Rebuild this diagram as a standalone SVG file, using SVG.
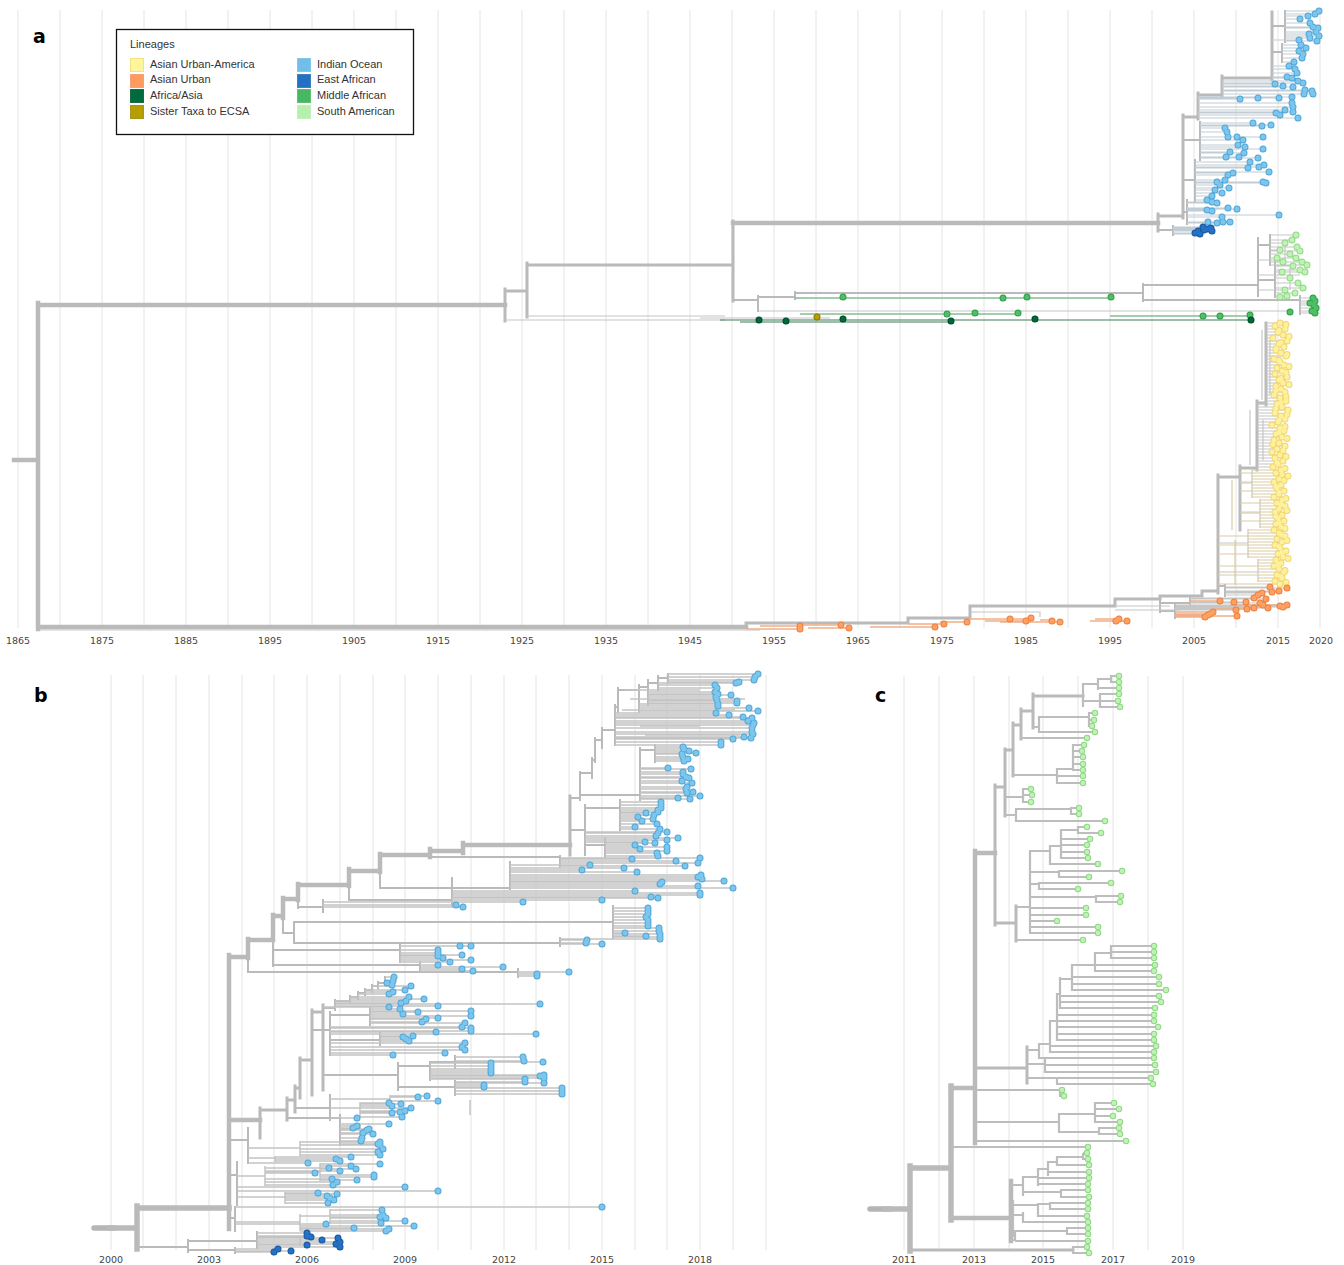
<svg xmlns="http://www.w3.org/2000/svg" xmlns:xlink="http://www.w3.org/1999/xlink" width="1344" height="1265" viewBox="0 0 1344 1265">
<style>
.grid{fill:none;stroke:#e4e4e4;stroke-width:1}
.ax{font-family:"DejaVu Sans",Verdana,sans-serif;font-size:9.5px;fill:#444;text-anchor:middle}
.pl{font-family:"DejaVu Sans",Verdana,sans-serif;font-size:19px;font-weight:bold;fill:#000}
.lg{font-family:"Liberation Sans",Arial,sans-serif;font-size:11px;fill:#333}
.br{fill:none;stroke:#bababa;stroke-linecap:square}
.w5{stroke-width:5.5}.w4{stroke-width:4.5}.w3{stroke-width:3}.w2{stroke-width:2}
.tp{fill:none;stroke:#c6c6c6;stroke-width:1.2}
.tpb{fill:none;stroke:#c2ccd4;stroke-width:1.2}
.tpt{fill:none;stroke:#d7cba6;stroke-width:1.2}
.tpo{fill:none;stroke:#f1ae88;stroke-width:1.3}
.tpg{fill:none;stroke:#86bd91;stroke-width:1.3}
.tpd{fill:none;stroke:#3f7d58;stroke-width:1.2}
.tb{fill:none;stroke:#c3c3c3;stroke-width:1.5}
.tc{fill:none;stroke:#bdbdbd;stroke-width:2.2}
.stub{fill:none;stroke:#b5b5b5;stroke-linecap:round}
.do{fill:none;stroke-linecap:round;stroke-width:7}
.di{fill:none;stroke-linecap:round;stroke-width:5}
.dso{fill:none;stroke-linecap:round;stroke-width:6.5}
.dsi{fill:none;stroke-linecap:round;stroke-width:4.5}
.io-o{stroke:#4fa6d8}.io-i{stroke:#7cc6ee}
.ea-o{stroke:#17589f}.ea-i{stroke:#2572c4}
.sa-o{stroke:#8fd985}.sa-i{stroke:#bff2b4}
.ma-o{stroke:#2e9c49}.ma-i{stroke:#4fbf66}
.aa-o{stroke:#004a27}.aa-i{stroke:#00693a}
.st-o{stroke:#8c7700}.st-i{stroke:#b89f00}
.aua-o{stroke:#efd672}.aua-i{stroke:#fff19c}
.au-o{stroke:#ec7f3e}.au-i{stroke:#ffa063}
</style>
<defs>
<path id="aIO" d="M1319 11h0M1315 14h0M1308 16h0M1300 19h0M1310 23h0M1313 27h0M1318 28h0M1316 32h0M1309 34h0M1319 36h0M1310 38h0M1317 41h0M1301 45h0M1306 48h0M1299 51h0M1303 54h0M1302 58h0M1294 62h0M1299 40h0M1289 66h0M1295 69h0M1297 73h0M1287 77h0M1292 78h0M1298 81h0M1303 83h0M1275 84h0M1283 86h0M1293 87h0M1305 90h0M1312 91h0M1304 94h0M1313 94h0M1258 98h0M1240 99h0M1279 98h0M1292 97h0M1292 103h0M1293 107h0M1285 110h0M1293 112h0M1276 113h0M1280 115h0M1298 118h0M1253 123h0M1262 126h0M1271 125h0M1225 128h0M1227 132h0M1228 137h0M1263 137h0M1237 137h0M1243 140h0M1238 145h0M1245 147h0M1263 149h0M1230 152h0M1244 153h0M1226 157h0M1239 157h0M1258 158h0M1250 162h0M1264 165h0M1248 168h0M1259 167h0M1269 172h0M1233 173h0M1228 175h0M1225 180h0M1217 182h0M1263 182h0M1266 183h0M1220 185h0M1229 188h0M1215 190h0M1222 193h0M1212 196h0M1207 200h0M1212 202h0M1217 203h0M1228 208h0M1237 209h0M1207 210h0M1212 211h0M1279 215h0M1222 217h0M1230 222h0M1223 222h0M1217 223h0M1208 222h0"/>
<path id="aEA" d="M1203 227h0M1211 228h0M1208 229h0M1204 230h0M1198 231h0M1212 231h0M1195 233h0M1200 234h0"/>
<path id="aSA" d="M1296 235h0M1292 240h0M1285 243h0M1297 247h0M1280 250h0M1300 251h0M1290 254h0M1296 258h0M1277 258h0M1302 262h0M1283 262h0M1307 265h0M1293 266h0M1300 270h0M1282 272h0M1305 272h0M1290 278h0M1298 283h0M1303 288h0M1285 290h0M1295 293h0M1287 296h0M1280 297h0"/>
<path id="aMA" d="M1313 298h0M1315 301h0M1310 303h0M1314 305h0M1316 308h0M1312 311h0M1315 313h0M843 297h0M1003 298h0M1027 297h0M1111 297h0M947 314h0M975 313h0M1018 313h0M1203 316h0M1220 316h0M1250 315h0M1290 312h0"/>
<path id="aAA" d="M759 320h0M786 321h0M843 319h0M951 321h0M1035 319h0M1251 320h0"/>
<path id="aST" d="M817 317h0"/>
<path id="aAUA" d="M1280 323h0M1275 326h0M1285 329h0M1278 332h0M1283 335h0M1273 338h0M1287 341h0M1279 344h0M1284 347h0M1276 350h0M1281 353h0M1286 356h0M1274 359h0M1280 362h0M1284 365h0M1277 368h0M1282 371h0M1275 374h0M1287 377h0M1279 380h0M1283 383h0M1276 386h0M1281 389h0M1285 392h0M1274 395h0M1280 398h0M1286 401h0M1277 404h0M1282 407h0M1288 410h0M1275 413h0M1281 416h0M1285 419h0M1278 422h0M1272 425h0M1280 428h0M1284 431h0M1276 434h0M1282 437h0M1274 440h0M1279 443h0M1285 446h0M1277 449h0M1272 452h0M1280 455h0M1275 458h0M1283 461h0M1278 464h0M1273 467h0M1281 470h0M1276 473h0M1288 476h0M1279 479h0M1274 482h0M1281 485h0M1277 488h0M1284 491h0M1279 494h0M1274 497h0M1282 500h0M1277 503h0M1285 506h0M1279 509h0M1275 512h0M1282 515h0M1278 518h0M1284 521h0M1276 524h0M1281 527h0M1274 530h0M1279 533h0M1285 536h0M1277 539h0M1282 542h0M1275 545h0M1280 548h0M1286 551h0M1278 554h0M1283 557h0M1276 560h0M1281 563h0M1274 566h0M1279 569h0M1284 572h0M1277 575h0M1282 578h0M1275 581h0M1280 584h0M1286 324.5h0M1279 330.5h0M1289 336.5h0M1281 342.5h0M1276 348.5h0M1287 354.5h0M1279 360.5h0M1289 366.5h0M1286 372.5h0M1281 378.5h0M1289 384.5h0M1276 390.5h0M1286 396.5h0M1281 402.5h0M1276 408.5h0M1287 414.5h0M1279 420.5h0M1285 426.5h0M1279 432.5h0M1287 438.5h0M1273 444.5h0M1283 450.5h0M1286 456.5h0M1277 462.5h0M1285 468.5h0M1282 474.5h0M1284 480.5h0M1276 486.5h0M1279 492.5h0M1286 498.5h0M1281 504.5h0M1287 510.5h0M1276 516.5h0M1279 522.5h0M1285 528.5h0M1281 534.5h0M1287 540.5h0M1279 546.5h0M1282 552.5h0M1288 558.5h0M1278 564.5h0M1285 570.5h0M1281 576.5h0M1286 582.5h0"/>
<path id="aAU" d="M1270 587h0M1272 592h0M1279 591h0M1287 588h0M1262 593h0M1258 595h0M1266 599h0M1254 598h0M1246 602h0M1234 602h0M1220 601h0M1260 603h0M1263 605h0M1254 608h0M1247 609h0M1236 610h0M1237 616h0M1268 608h0M1280 606h0M1283 607h0M1287 605h0M1205 617h0M1210 614h0M1213 612h0M1208 615h0M800 626h0M800 629h0M841 625h0M849 628h0M935 627h0M944 624h0M967 622h0M1010 619h0M1026 621h0M1031 618h0M1052 621h0M1060 622h0M1116 621h0M1119 619h0M1127 621h0"/>
<path id="bIO" d="M758 674h0M755 677h0M754 680h0M739 682h0M736 683h0M715 685h0M717 688h0M715 692h0M718 694h0M731 695h0M716 697h0M717 700h0M737 701h0M737 703h0M718 704h0M718 706h0M749 708h0M758 711h0M716 713h0M729 715h0M743 717h0M752 718h0M748 721h0M754 723h0M753 725h0M752 728h0M752 732h0M753 734h0M744 737h0M751 738h0M733 739h0M721 742h0M721 745h0M683 747h0M684 749h0M689 751h0M696 753h0M682 754h0M683 757h0M688 759h0M684 761h0M668 768h0M691 769h0M683 772h0M683 774h0M686 777h0M689 778h0M682 781h0M692 783h0M687 787h0M686 789h0M693 792h0M687 793h0M700 796h0M678 798h0M690 799h0M661 802h0M661 805h0M661 808h0M658 810h0M658 812h0M646 813h0M654 815h0M638 817h0M653 819h0M642 821h0M657 824h0M635 827h0M660 829h0M667 832h0M658 833h0M656 836h0M678 838h0M667 840h0M645 842h0M655 843h0M635 845h0M667 847h0M640 849h0M667 851h0M657 853h0M658 856h0M700 858h0M632 859h0M676 861h0M698 863h0M685 866h0M590 865h0M624 868h0M582 870h0M637 872h0M701 875h0M698 877h0M702 879h0M724 881h0M662 882h0M660 884h0M698 886h0M733 888h0M635 891h0M700 893h0M700 895h0M651 897h0M658 898h0M602 900h0M523 902h0M456 905h0M463 907h0M648 908h0M648 911h0M648 914h0M646 917h0M648 920h0M648 923h0M648 926h0M659 928h0M659 931h0M660 934h0M660 937h0M625 933h0M646 936h0M587 940h0M586 943h0M602 944h0M660 939h0M460 946h0M471 946h0M438 950h0M438 953h0M462 955h0M438 956h0M443 958h0M471 960h0M450 962h0M438 965h0M503 967h0M462 969h0M473 971h0M569 972h0M537 974h0M537 976h0M394 977h0M393 981h0M387 983h0M392 985h0M411 986h0M405 990h0M393 992h0M389 994h0M409 997h0M424 999h0M406 1001h0M401 1003h0M540 1004h0M438 1006h0M389 1007h0M400 1009h0M471 1011h0M418 1012h0M403 1014h0M471 1016h0M438 1018h0M426 1019h0M422 1022h0M465 1023h0M462 1027h0M471 1028h0M471 1031h0M436 1032h0M536 1034h0M465 1043h0M462 1047h0M465 1050h0M445 1053h0M393 1055h0M413 1036h0M403 1037h0M406 1039h0M409 1041h0M523 1057h0M524 1061h0M543 1062h0M491 1063h0M491 1066h0M491 1069h0M491 1071h0M491 1073h0M544 1075h0M540 1076h0M544 1078h0M525 1079h0M525 1082h0M544 1083h0M484 1085h0M484 1087h0M562 1088h0M562 1091h0M562 1094h0M427 1096h0M418 1097h0M438 1101h0M389 1103h0M401 1104h0M392 1106h0M411 1108h0M405 1111h0M400 1112h0M392 1113h0M402 1117h0M357 1118h0M389 1124h0M357 1126h0M353 1128h0M369 1129h0M367 1130h0M363 1133h0M373 1134h0M362 1138h0M361 1141h0M378 1144h0M380 1142h0M380 1145h0M383 1149h0M378 1152h0M380 1155h0M351 1157h0M336 1159h0M340 1161h0M308 1163h0M380 1164h0M351 1166h0M329 1168h0M356 1169h0M340 1171h0M315 1173h0M374 1175h0M374 1177h0M332 1179h0M357 1180h0M337 1182h0M333 1185h0M405 1187h0M438 1191h0M318 1193h0M337 1194h0M327 1196h0M330 1198h0M334 1200h0M328 1203h0M602 1207h0M382 1210h0M383 1215h0M380 1217h0M386 1218h0M405 1221h0M381 1223h0M326 1224h0M414 1226h0M354 1228h0M389 1229h0M386 1231h0"/>
<path id="bEA" d="M307 1233h0M307 1236h0M311 1237h0M322 1240h0M338 1238h0M340 1242h0M336 1244h0M340 1247h0M307 1245h0M278 1249h0M291 1251h0M274 1252h0"/>
<path id="cSA" d="M1119 676h0M1119 682h0M1119 688h0M1119 694h0M1118 701h0M1120 707h0M1095 713h0M1094 720h0M1092 726h0M1095 732h0M1087 738h0M1084 745h0M1082 751h0M1083 757h0M1083 764h0M1083 770h0M1083 776h0M1083 783h0M1031 789h0M1032 795h0M1031 802h0M1079 808h0M1079 814h0M1105 821h0M1087 827h0M1101 833h0M1090 839h0M1087 845h0M1087 852h0M1088 858h0M1098 864h0M1122 871h0M1089 877h0M1111 883h0M1078 889h0M1121 896h0M1120 902h0M1086 908h0M1086 915h0M1057 921h0M1098 927h0M1098 933h0M1083 940h0M1154 946h0M1154 952h0M1154 958h0M1155 965h0M1154 971h0M1159 977h0M1159 984h0M1166 990h0M1159 996h0M1161 1002h0M1155 1008h0M1154 1015h0M1154 1021h0M1158 1027h0M1154 1034h0M1154 1040h0M1156 1046h0M1154 1052h0M1154 1058h0M1155 1065h0M1156 1072h0M1151 1078h0M1153 1084h0M1062 1090h0M1064 1096h0M1114 1103h0M1119 1109h0M1113 1116h0M1120 1122h0M1119 1128h0M1120 1134h0M1126 1141h0M1088 1147h0M1087 1153h0M1088 1159h0M1089 1165h0M1089 1172h0M1089 1178h0M1088 1184h0M1088 1190h0M1089 1197h0M1088 1203h0M1088 1209h0M1087 1216h0M1088 1222h0M1088 1228h0M1088 1234h0M1088 1241h0M1087 1247h0M1089 1253h0"/>
</defs>
<rect width="1344" height="1265" fill="#fff"/>

<g id="panel-a">
<path id="a-grid" class="grid" d="M18 10V628M60 10V628M102 10V628M144 10V628M186 10V628M228 10V628M270 10V628M312 10V628M354 10V628M396 10V628M438 10V628M480 10V628M522 10V628M564 10V628M606 10V628M648 10V628M690 10V628M732 10V628M774 10V628M816 10V628M858 10V628M900 10V628M942 10V628M984 10V628M1026 10V628M1068 10V628M1110 10V628M1152 10V628M1194 10V628M1236 10V628M1278 10V628M1320 10V628"/>
<g id="a-axis" class="ax">
<text x="18" y="644">1865</text><text x="102" y="644">1875</text><text x="186" y="644">1885</text><text x="270" y="644">1895</text><text x="354" y="644">1905</text><text x="438" y="644">1915</text><text x="522" y="644">1925</text><text x="606" y="644">1935</text><text x="690" y="644">1945</text><text x="774" y="644">1955</text><text x="858" y="644">1965</text><text x="942" y="644">1975</text><text x="1026" y="644">1985</text><text x="1110" y="644">1995</text><text x="1194" y="644">2005</text><text x="1278" y="644">2015</text><text x="1321" y="644">2020</text>
</g>
<text id="label-a" class="pl" x="33" y="43">a</text>
<g id="a-connectors">
<path class="tp" d="M40 630H760"/>
<path class="br w4" d="M14 460H38M38 303V629M38 305H505M38 627H746M733 223H1158"/>
<path class="br w3" d="M505 289V321M505 291H527M527 263V317M527 265H733M733 221V301M1158 214V231M1158 216H1183M1183 115V218M1183 117H1198M1198 93V119M1198 95H1222M1222 76V97M1222 78H1272M1272 12V80M746 627V623H908V618H970V606H1115V599H1160V596H1202V591H1218M1218 475V593M1218 477H1240M1240 466V530M1240 468H1257M1257 401V470M1257 403H1266M1266 323V405"/>
<path class="br w2" d="M733 300H758M758 296V311M758 297H795M795 292V299M795 293H1143M1143 284V301M1143 285H1258M1258 238V296M1143 300H1300M1300 296V314M1158 230H1173M1173 226V235M1183 140H1200M1200 122V160M1183 180H1195M1195 160V202M1183 212H1187M1187 200V224M1272 26H1285M1285 11V42M1272 52H1282M1282 44V62M1258 245H1270M1270 235V265M1258 280H1275M1275 262V297M1218 586H1225M1225 585V596M1160 599V612M1160 603H1190M1190 597V606M1160 611H1175M1175 604V618"/>
<path class="tp" d="M758 311H1290M527 316H725M505 320H725M700 318H830M1258 260H1285M1258 275H1300M1258 290H1275M1285 245V262M1290 268V290M1262 330V400M1270 340V395M1250 410V465M1263 420V460M970 612H1040V617M1115 606H1170M1115 610H1180M1240 483H1252M1252 469V498M1240 513H1260M1260 499V528M1218 543H1248M1248 529V558M1218 572H1258M1258 559V582"/>
<path class="tpt" d="M1232 480V530M1235 540V585"/>
<path class="tpb" d="M1285 11H1319M1285 14H1315M1285 16H1308M1285 19H1300M1285 23H1310M1285 27H1313M1285 28H1318M1285 32H1316M1285 34H1309M1285 36H1319M1285 38H1310M1285 41H1317M1282 45H1301M1282 48H1306M1282 51H1299M1282 54H1303M1282 58H1302M1282 62H1294M1272 40H1299M1272 66H1289M1272 69H1295M1272 73H1297M1272 77H1287M1272 78H1292M1222 81H1298M1222 83H1303M1222 84H1275M1222 86H1283M1222 87H1293M1222 90H1305M1222 91H1312M1222 94H1313M1198 98H1279M1198 99H1240M1198 97H1292M1198 103H1292M1198 107H1293M1198 110H1285M1198 112H1293M1198 113H1276M1198 115H1280M1198 118H1298M1200 123H1253M1200 126H1262M1200 125H1271M1200 128H1225M1200 132H1227M1200 137H1263M1200 140H1243M1200 145H1238M1200 147H1245M1200 149H1263M1200 152H1230M1200 153H1244M1200 157H1239M1200 158H1258M1195 162H1250M1195 165H1264M1195 168H1248M1195 167H1259M1195 172H1269M1195 173H1233M1195 175H1228M1195 180H1225M1195 182H1263M1195 183H1266M1195 185H1220M1195 188H1229M1195 190H1215M1195 193H1222M1195 196H1212M1195 200H1207M1187 202H1212M1187 203H1217M1187 208H1228M1187 209H1237M1187 210H1207M1187 211H1212M1187 215H1279M1187 217H1222M1187 222H1230M1187 223H1217M1173 227H1203M1173 228H1211M1173 229H1208M1173 230H1204M1173 231H1212M1173 233H1195M1173 234H1200"/>
<path class="tp" d="M1270 235H1296M1270 240H1292M1270 243H1285M1270 247H1297M1270 250H1280M1270 251H1300M1270 254H1290M1270 258H1296M1270 262H1302M1270 265H1307M1275 266H1293M1275 270H1300M1275 272H1305M1275 278H1290M1275 283H1298M1275 288H1303M1275 290H1285M1275 293H1295M1275 296H1287M1300 298H1313M1300 301H1315M1300 303H1310M1300 305H1314M1300 308H1316M1300 311H1312M1300 313H1315"/>
<path class="tpg" d="M795 298H1111M800 314H1018M1110 316H1250"/>
<path class="tpd" d="M720 320H1251M740 322H951"/>
<path class="tp" d="M1266 323H1280M1266 326H1275M1266 329H1285M1266 332H1278M1266 335H1283M1266 338H1273M1266 341H1287M1266 344H1279M1266 347H1284M1266 350H1276M1266 353H1281M1266 356H1286M1266 359H1274M1266 362H1280M1266 365H1284M1266 368H1277M1266 371H1282M1266 374H1275M1266 377H1287M1266 380H1279M1266 383H1283M1266 386H1276M1266 389H1281M1266 392H1285M1266 395H1274M1266 398H1280M1266 401H1286M1257 404H1277M1257 407H1282M1257 410H1288M1257 413H1275M1257 416H1281M1257 419H1285M1257 422H1278M1257 425H1272M1257 428H1280M1257 431H1284M1257 434H1276M1257 437H1282M1257 440H1274M1257 443H1279M1257 446H1285M1257 449H1277M1257 452H1272M1257 455H1280M1257 458H1275M1257 461H1283M1257 464H1278M1257 467H1273"/>
<path class="tpt" d="M1252 470H1281M1240 473H1276M1252 476H1288M1252 479H1279M1240 482H1274M1252 485H1281M1252 488H1277M1240 491H1284M1252 494H1279M1252 497H1274M1260 500H1282M1240 503H1277M1260 506H1285M1260 509H1279M1240 512H1275M1260 515H1282M1260 518H1278M1240 521H1284M1260 524H1276M1260 527H1281M1248 530H1274M1248 533H1279M1218 536H1285M1248 539H1277M1248 542H1282M1218 545H1275M1248 548H1280M1248 551H1286M1218 554H1278M1248 557H1283M1258 560H1276M1258 563H1281M1218 566H1274M1258 569H1279M1258 572H1284M1218 575H1277M1258 578H1282M1258 581H1275M1218 584H1280"/>
<path class="tp" d="M1225 587H1270M1225 592H1272M1225 591H1279M1225 588H1287M1225 593H1262M1225 595H1258M1190 599H1266M1190 598H1254M1190 602H1246M1190 603H1260M1190 605H1263M1175 608H1268M1175 609H1247M1175 610H1236M1175 606H1280M1175 607H1283M1175 605H1287"/>
<path class="tpo" d="M1190 601H1220M1175 616H1237M1175 617H1205M1175 614H1210M1175 612H1213M1175 615H1208M746 629H800M760 626H800M800 625H841M808 628H849M870 627H935M908 624H944M940 622H967M970 619H1031M985 621H1026M1000 622H1060M1040 620H1052M1090 621H1127M1095 619H1119M1000 619H1010M1230 605H1287M1215 609H1254"/>
</g>
<g id="a-tips">
<g id="a-indian-ocean"><use href="#aIO" class="do io-o"/><use href="#aIO" class="di io-i"/></g>
<g id="a-east-african"><use href="#aEA" class="do ea-o"/><use href="#aEA" class="di ea-i"/></g>
<g id="a-south-american"><use href="#aSA" class="do sa-o"/><use href="#aSA" class="di sa-i"/></g>
<g id="a-middle-african"><use href="#aMA" class="do ma-o"/><use href="#aMA" class="di ma-i"/></g>
<g id="a-africa-asia"><use href="#aAA" class="do aa-o"/><use href="#aAA" class="di aa-i"/></g>
<g id="a-sister-taxa"><use href="#aST" class="do st-o"/><use href="#aST" class="di st-i"/></g>
<g id="a-asian-urban-america"><use href="#aAUA" class="do aua-o"/><use href="#aAUA" class="di aua-i"/></g>
<g id="a-asian-urban"><use href="#aAU" class="do au-o"/><use href="#aAU" class="di au-i"/></g>
</g>
<g id="legend">
<rect x="116.5" y="29.5" width="297" height="105" fill="#fff" stroke="#111" stroke-width="1.3"/>
<text class="lg" x="130" y="48">Lineages</text>
<g id="leg-aua"><rect x="130.5" y="58.5" width="13" height="13" fill="#fff59d" stroke="#f3e27e"/><text class="lg" x="150" y="68">Asian Urban-America</text></g>
<g id="leg-au"><rect x="130.5" y="74.5" width="13" height="13" fill="#ff9b5e" stroke="#f5a27a"/><text class="lg" x="150" y="83">Asian Urban</text></g>
<g id="leg-aa"><rect x="130.5" y="89.5" width="13" height="13" fill="#006b3c" stroke="#1d6b45"/><text class="lg" x="150" y="99">Africa/Asia</text></g>
<g id="leg-st"><rect x="130.5" y="105.5" width="13" height="13" fill="#b89f00" stroke="#a89420"/><text class="lg" x="150" y="115">Sister Taxa to ECSA</text></g>
<g id="leg-io"><rect x="297.5" y="58.5" width="13" height="13" fill="#70bfea" stroke="#86c6ea"/><text class="lg" x="317" y="68">Indian Ocean</text></g>
<g id="leg-ea"><rect x="297.5" y="74.5" width="13" height="13" fill="#2271c3" stroke="#3f7fc4"/><text class="lg" x="317" y="83">East African</text></g>
<g id="leg-ma"><rect x="297.5" y="89.5" width="13" height="13" fill="#47b862" stroke="#62bf74"/><text class="lg" x="317" y="99">Middle African</text></g>
<g id="leg-sa"><rect x="297.5" y="105.5" width="13" height="13" fill="#b6f0ae" stroke="#c5f0bd"/><text class="lg" x="317" y="115">South American</text></g>
</g>
</g>

<g id="panel-b">
<path id="b-grid" class="grid" d="M111 675V1250M143 675V1250M176 675V1250M209 675V1250M242 675V1250M274 675V1250M307 675V1250M340 675V1250M373 675V1250M405 675V1250M438 675V1250M471 675V1250M504 675V1250M536 675V1250M569 675V1250M602 675V1250M635 675V1250M667 675V1250M700 675V1250M733 675V1250M766 675V1250"/>
<g id="b-axis" class="ax">
<text x="111" y="1263">2000</text><text x="209" y="1263">2003</text><text x="307" y="1263">2006</text><text x="405" y="1263">2009</text><text x="504" y="1263">2012</text><text x="602" y="1263">2015</text><text x="700" y="1263">2018</text>
</g>
<text id="label-b" class="pl" x="34" y="702">b</text>
<g id="b-connectors">
<path class="stub w5" d="M94 1228H115"/>
<path class="br w5" d="M110 1228H137M137 1206V1249M137 1208H229"/>
<path class="br w4" d="M229 955V1229M229 957H248M248 939V958M248 940H273M273 915V940M273 916H283M283 898V918M283 899H298M298 884V900M298 885H349M349 869V886M349 871H380M380 854V872M380 855H430M430 849V857M430 851H463M463 843V853M463 845H570M229 1120H260"/>
<path class="br w3" d="M570 796V855M260 1108V1138M260 1110H287M287 1098V1120M287 1100H295M295 1086V1112M295 1088H300M300 1058V1098M300 1060H312M312 1010V1095M312 1012H323M323 1005V1090"/>
<path class="br w2" d="M248 958V972M273 940V966M283 918V933M298 900V908M349 886V900M380 872V888M229 1140H248M248 1128V1163M229 1175H237M237 1162V1205M229 1218H235M235 1207V1231M137 1247H188M188 1240V1252M188 1241H257M257 1232V1248M188 1250H235M235 1248V1253M570 798H580M580 772V800M580 773H592M592 758V778M592 760H595M595 738V762M595 740H602M602 728V748M602 730H615M615 705V745M615 707H618M618 688V712M618 690H639M639 685V712M639 687H648M648 680V705M648 683H658M658 676V690M658 678H668M668 674V683M580 795H640M640 748V800M640 750H655M655 745V762M570 830H585M585 805V855M585 808H620M620 800V830M585 845H605M605 838V857M349 900H452M452 878V906M380 888H510M510 862V889M430 857H560M560 856V867M298 907H323M323 900V912M283 933H294M294 922V943M294 922H613M613 906V938M294 943H560M560 938V946M273 950H400M400 944V962M273 965H420M420 962V972M248 972H518M518 969V977M323 1008H335M335 1000V1010M335 1001H350M350 996V1003M350 997H358M358 992V999M358 993H365M365 989V995M365 990H372M372 985V992M372 986H378M378 982V988M378 983H385M385 977V985M312 1030H330M330 1012V1055M330 1015H370M370 1008V1025M330 1040H380M380 1032V1045M323 1075H398M398 1063V1090M398 1066H430M430 1062V1080M430 1062H455M455 1056V1068M398 1087H455M455 1081V1095M295 1108H330M330 1095V1120M287 1118H340M340 1115V1145"/>
<path class="tb" d="M330 1108H360M360 1102V1118M330 1099H390M390 1095V1102M248 1148H300M300 1141V1156M248 1158H275M275 1156V1162M237 1176H265M265 1166V1186M265 1172H320M320 1163V1181M237 1197H285M285 1192V1204M235 1222H300M300 1214V1231M300 1216H330M330 1209V1224M300 1235V1246M625 690H700M630 699H745M622 710H735M640 726H700M645 735H740M470 1100V1115M360 1125V1140"/>
<path class="tb" d="M668 674H758M668 677H755M668 680H754M668 682H739M658 683H736M658 685H715M658 688H717M648 692H715M648 694H718M648 695H731M648 697H716M648 700H717M648 701H737M648 703H737M639 704H718M639 706H718M639 708H749M639 711H758M615 713H716M615 715H729M615 717H743M615 718H752M615 721H748M615 723H754M615 725H753M615 728H752M615 732H752M615 734H753M615 737H744M615 738H751M615 739H733M615 742H721M615 745H721M655 747H683M655 749H684M655 751H689M655 753H696M655 754H682M655 757H683M655 759H688M655 761H684M640 768H668M640 769H691M640 772H683M640 774H683M640 777H686M640 778H689M640 781H682M640 783H692M640 787H687M640 789H686M640 792H693M640 793H687M640 796H700M640 798H678M640 799H690M620 802H661M620 805H661M620 808H661M620 810H658M620 812H658M620 813H646M620 815H654M620 817H638M620 819H653M620 821H642M620 824H657M620 827H635M620 829H660M585 832H667M585 833H658M585 836H656M585 838H678M585 840H667M585 842H645M605 843H655M605 845H635M605 847H667M605 849H640M605 851H667M605 853H657M605 856H658"/>
<path class="tb" d="M560 858H700M560 859H632M560 861H676M560 863H698M560 866H685M510 865H590M510 868H624M510 870H582M510 872H637M510 875H701M510 877H698M510 879H702M510 881H724M510 882H662M510 884H660M510 886H698M510 888H733M452 891H635M452 893H700M452 895H700M452 897H651M452 898H658M452 900H602M323 902H523M323 905H456M323 907H463M613 908H648M613 911H648M613 914H648M613 917H646M613 920H648M613 923H648M613 926H648M613 928H659M613 931H659M613 934H660M613 937H660M613 933H625M613 936H646M560 940H587M560 943H586M560 944H602M560 939H660M400 946H460M400 946H471M400 950H438M400 953H438M400 955H462M400 956H438M400 958H443M400 960H471M400 962H450M420 965H438M420 967H503M420 969H462M420 971H473M518 972H569M518 974H537M518 976H537"/>
<path class="tb" d="M385 977H394M385 981H393M385 983H387M385 985H392M372 986H411M365 990H405M365 992H393M358 994H389M350 997H409M350 999H424M335 1001H406M335 1003H401M335 1004H540M335 1006H438M323 1007H389M370 1009H400M370 1011H471M370 1012H418M370 1014H403M370 1016H471M370 1018H438M370 1019H426M370 1022H422M370 1023H465M330 1027H462M330 1028H471M330 1031H471M330 1032H436M330 1034H536M330 1043H465M330 1047H462M330 1050H465M330 1053H445M330 1055H393M380 1036H413M380 1037H403M380 1039H406M380 1041H409M455 1057H523M455 1061H524M455 1062H543M430 1063H491M430 1066H491M430 1069H491M430 1071H491M430 1073H491M430 1075H544M430 1076H540M430 1078H544M430 1079H525M455 1082H525M455 1083H544M455 1085H484M455 1087H484M455 1088H562M455 1091H562M455 1094H562"/>
<path class="tb" d="M390 1096H427M390 1097H418M390 1101H438M360 1103H389M360 1104H401M360 1106H392M360 1108H411M360 1111H405M360 1112H400M360 1113H392M360 1117H402M330 1118H357M340 1124H389M340 1126H357M340 1128H353M340 1129H369M340 1130H367M340 1133H363M340 1134H373M340 1138H362M340 1141H361M340 1144H378M300 1142H380M300 1145H380M300 1149H383M300 1152H378M300 1155H380M275 1157H351M275 1159H336M275 1161H340M248 1163H308M320 1164H380M320 1166H351M265 1168H329M320 1169H356M265 1171H340M265 1173H315M320 1175H374M320 1177H374M265 1179H332M320 1180H357M265 1182H337M265 1185H333M237 1187H405M237 1191H438M285 1193H318M285 1194H337M285 1196H327M285 1198H330M285 1200H334M285 1203H328M235 1207H602M330 1210H382M330 1215H383M330 1217H380M330 1218H386M330 1221H405M330 1223H381M235 1224H326M300 1226H414M300 1228H354M300 1229H389M300 1231H386M257 1233H307M257 1236H307M257 1237H311M257 1240H322M257 1238H338M257 1242H340M257 1244H336M257 1247H340M257 1245H307M235 1249H278M235 1251H291M235 1252H274"/>
</g>
<g id="b-tips">
<g id="b-indian-ocean"><use href="#bIO" class="do io-o"/><use href="#bIO" class="di io-i"/></g>
<g id="b-east-african"><use href="#bEA" class="do ea-o"/><use href="#bEA" class="di ea-i"/></g>
</g>
</g>

<g id="panel-c">
<path id="c-grid" class="grid" d="M904 676V1250M939 676V1250M974 676V1250M1009 676V1250M1043 676V1250M1078 676V1250M1113 676V1250M1148 676V1250M1183 676V1250"/>
<g id="c-axis" class="ax">
<text x="904" y="1263">2011</text><text x="974" y="1263">2013</text><text x="1043" y="1263">2015</text><text x="1113" y="1263">2017</text><text x="1183" y="1263">2019</text>
</g>
<text id="label-c" class="pl" x="875" y="702">c</text>
<g id="c-connectors">
<path class="stub w5" d="M870 1209H890"/>
<path class="br w5" d="M885 1209H910M910 1166V1251M910 1168H951M951 1086V1220"/>
<path class="br w4" d="M951 1088H975M975 851V1143M975 853H995M951 1218H1011M1011 1181V1241"/>
<path class="br w3" d="M995 785V925M995 923H1016M1016 906V941M995 787H1005M1005 749V816M1005 750H1013M1013 723V776M1013 725H1021M1021 709V739M1021 711H1033M1033 694V728M1033 696H1083M975 1068H1027M1027 1047V1083M910 1250H1073"/>
<path class="tc" d="M1083 683V707M1083 684H1098M1098 678V690M1098 679H1111M1111 675V683M1083 701H1100M1100 693V708M1033 727H1039M1039 716V733M1039 717H1089M1089 712V727M1013 775H1057M1057 768V784M1057 769H1073M1073 744V771M1005 797H1023M1023 788V803M1005 815H1016M1016 808V822M1016 809H1071M1071 807V815M1016 907H1030M1030 850V934M1030 851H1050M1050 845V865M1050 846H1061M1061 829V859M1061 830H1078M1078 826V834M1030 872H1059M1059 870V878M1030 884H1039M1039 882V890M1030 897H1096M1096 895V903M1027 1050H1039M1039 1043V1059M1039 1044H1050M1050 1020V1053M1050 1021H1057M1057 993V1041M1057 994H1060M1060 977V1009M1060 979H1072M1072 964V991M1072 965H1095M1095 952V972M1095 953H1111M1111 945V959M1027 1064H1045M1045 1058V1073M1027 1078H1057M1057 1077V1085M975 1090H1060M1060 1089V1097M975 1122H1059M1059 1113V1133M1059 1114H1095M1095 1102V1123M1059 1132H1099M1099 1127V1135M1011 1185H1023M1023 1176V1196M1023 1177H1038M1038 1168V1186M1038 1169H1048M1048 1161V1176M1048 1162H1057M1057 1156V1166M1057 1157H1083M1083 1153V1160M1023 1192H1061M1061 1189V1198M1011 1218H1013M1013 1200V1237M1013 1205H1038M1038 1203V1217M1038 1204H1050M1050 1202V1210M1013 1215H1023M1023 1212V1223M1013 1231H1067M1067 1227V1235M1011 1240H1015M1015 1232V1241M1073 1246V1254"/>
<path class="tc" d="M1111 676H1119M1111 682H1119M1098 688H1119M1100 694H1119M1100 701H1118M1100 707H1120M1089 713H1095M1089 720H1094M1089 726H1092M1039 732H1095M1021 738H1087M1073 745H1084M1073 751H1082M1073 757H1083M1073 764H1083M1073 770H1083M1057 776H1083M1057 783H1083M1023 789H1031M1023 795H1032M1023 802H1031M1071 808H1079M1071 814H1079M1016 821H1105M1078 827H1087M1078 833H1101M1061 839H1090M1061 845H1087M1061 852H1087M1061 858H1088M1050 864H1098M1059 871H1122M1059 877H1089M1039 883H1111M1039 889H1078M1096 896H1121M1096 902H1120M1030 908H1086M1030 915H1086M1030 921H1057M1030 927H1098M1030 933H1098M1016 940H1083M1111 946H1154M1111 952H1154M1111 958H1154M1095 965H1155M1095 971H1154M1072 977H1159M1072 984H1159M1072 990H1166M1060 996H1159M1060 1002H1161M1060 1008H1155M1057 1015H1154M1057 1021H1154M1057 1027H1158M1057 1034H1154M1057 1040H1154M1050 1046H1156M1050 1052H1154M1039 1058H1154M1045 1065H1155M1045 1072H1156M1057 1078H1151M1057 1084H1153M1060 1090H1062M1060 1096H1064M1095 1103H1114M1095 1109H1119M1095 1116H1113M1095 1122H1120M1099 1128H1119M1099 1134H1120M975 1141H1126M951 1147H1088M1083 1153H1087M1083 1159H1088M1057 1165H1089M1048 1172H1089M1038 1178H1089M1038 1184H1088M1061 1190H1088M1061 1197H1089M1050 1203H1088M1050 1209H1088M1038 1216H1087M1023 1222H1088M1067 1228H1088M1067 1234H1088M1015 1241H1088M1073 1247H1087M1073 1253H1089"/>
</g>
<g id="c-tips">
<g id="c-south-american"><use href="#cSA" class="dso sa-o"/><use href="#cSA" class="dsi sa-i"/></g>
</g>
</g>
</svg>
